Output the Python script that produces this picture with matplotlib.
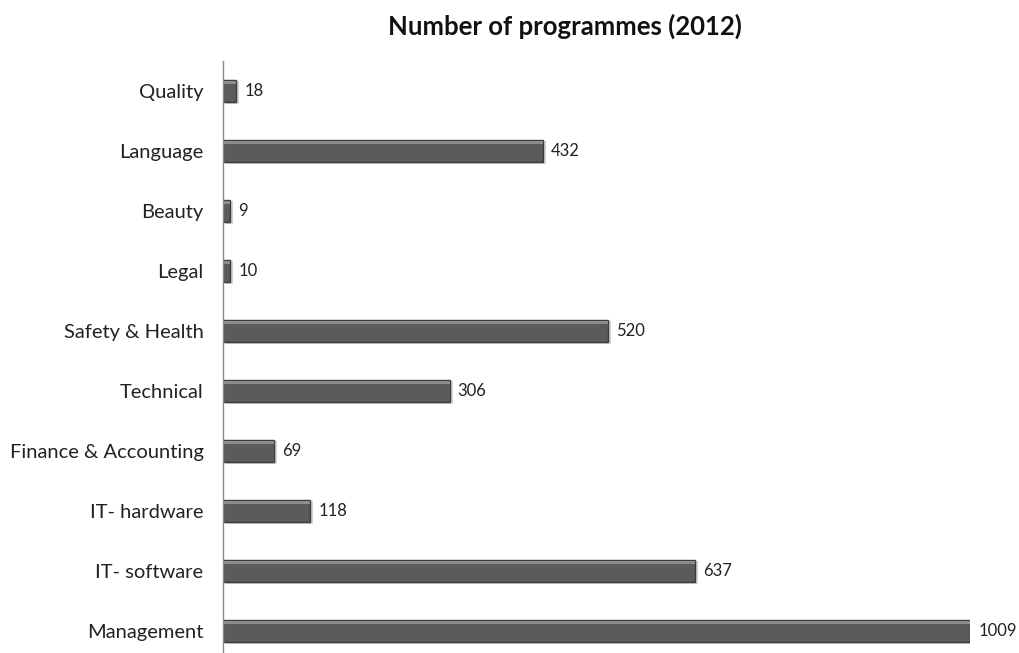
import matplotlib
matplotlib.use('Agg')
import matplotlib.pyplot as plt

# Programme counts per category, bottom to top
categories = ['Management', 'IT- software', 'IT- hardware', 'Finance & Accounting',
              'Technical', 'Safety & Health', 'Legal', 'Beauty', 'Language', 'Quality']
programmes = [1009, 637, 118, 69, 306, 520, 10, 9, 432, 18]

plt.rcParams['font.family'] = ['Lato', 'DejaVu Sans']

fig = plt.figure(figsize=(10.19, 6.53), dpi=100)
ax = fig.add_axes([223 / 1019, -8 / 653, 747 / 1019, 600 / 653])

pos = list(range(len(categories)))
bar_h = 0.38

# soft shadow under each bar
ax.barh([p - 0.03 for p in pos], programmes, height=bar_h, left=4,
        color='#d4d4d4', zorder=1)
# main bar body
ax.barh(pos, programmes, height=bar_h, color='#5b5b5b',
        edgecolor='#3c3c3c', linewidth=1.0, zorder=2)
# bevel highlight along the top edge
ax.barh([p + bar_h / 2 - 0.05 for p in pos], programmes, height=0.05,
        color='#8c8c8c', zorder=3)

for p, v in zip(pos, programmes):
    ax.text(v + 11, p, str(v), va='center', ha='left', fontsize=12, color='#222222')

ax.set_xlim(0, 1009)
ax.set_ylim(-0.5, len(categories) - 0.5)
ax.set_yticks(pos)
ax.set_yticklabels(categories, fontsize=14.5, color='#222222')
ax.tick_params(axis='y', length=0, pad=14)
ax.set_xticks([])

for side in ['top', 'right', 'bottom']:
    ax.spines[side].set_visible(False)
ax.spines['left'].set_color('#8a8a8a')
ax.spines['left'].set_linewidth(1.0)

fig.text(565 / 1019, 1 - 26 / 653, 'Number of programmes (2012)', ha='center', va='center',
         fontsize=18.5, fontweight='bold', color='#111111')

fig.savefig('out.png', dpi=100)
